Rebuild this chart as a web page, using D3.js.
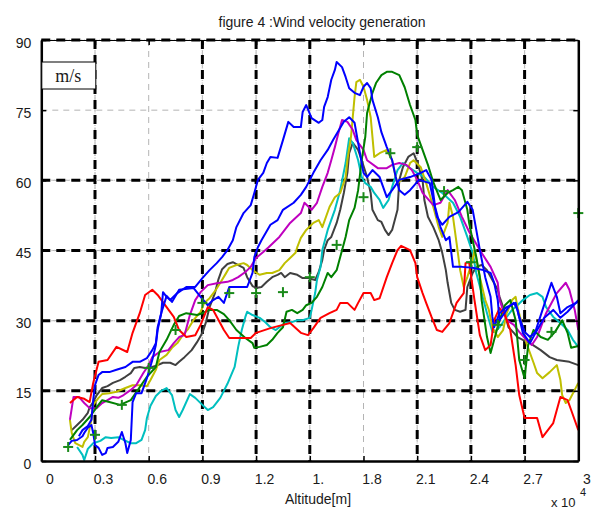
<!DOCTYPE html>
<html>
<head>
<meta charset="utf-8">
<script src="https://cdn.jsdelivr.net/npm/d3@7"></script>
<style>
  html, body { margin: 0; padding: 0; background: #fff; }
  svg { display: block; }
  text { font-family: "Liberation Sans", Arial, Helvetica, sans-serif; fill: #1a1a1a; }
</style>
</head>
<body>
<svg id="chart" width="598" height="509"></svg>
<script>
// ---------- data (altitude in units of 10^4 m, velocity in m/s) ----------
const xTicks = [0, 0.3, 0.6, 0.9, 1.2, 1.5, 1.8, 2.1, 2.4, 2.7, 3];
const xTickLabels = ["0", "0.3", "0.6", "0.9", "1.2", "1.", "1.8", "2.1", "2.4", "2.7", "3"];
const yTicks = [0, 15, 30, 45, 60, 75, 90];
const yTickLabels = ["0", "15", "30", "45", "60", "75", "90"];
const heavyGridX = [0.3, 0.9, 1.2, 1.5, 2.1, 2.4, 2.7];
const heavyGridY = [15, 30, 45, 60];

const titleText = "figure 4 :Wind velocity generation";
const xLabelText = "Altitude[m]";
const unitText = "m/s";

const red = [[0.16,12.4],[0.20,13.7],[0.24,13.3],[0.27,12.6],[0.29,16.7],[0.32,21.2],[0.37,21.6],[0.42,24.4],[0.48,23.3],[0.51,27.4],[0.55,31.6],[0.58,35.5],[0.62,36.6],[0.65,35.5],[0.70,32.9],[0.74,30.8],[0.77,28.0],[0.81,26.5],[0.86,26.9],[0.89,29.1],[0.93,32.9],[0.96,32.3],[1.02,28.0],[1.05,26.3],[1.11,26.3],[1.17,26.3],[1.20,27.4],[1.28,28.4],[1.35,29.1],[1.39,29.5],[1.45,27.4],[1.49,26.9],[1.52,28.4],[1.56,30.6],[1.61,31.6],[1.65,32.3],[1.67,33.8],[1.71,33.8],[1.75,32.3],[1.77,33.8],[1.80,35.9],[1.84,35.9],[1.86,34.4],[1.89,34.8],[1.93,39.3],[1.96,42.3],[1.99,45.1],[2.01,46.0],[2.06,45.1],[2.09,42.3],[2.10,39.3],[2.13,35.9],[2.15,33.8],[2.18,30.8],[2.21,28.0],[2.24,27.6],[2.28,29.5],[2.32,33.8],[2.36,35.9],[2.37,42.3],[2.39,42.5],[2.42,34.4],[2.45,26.9],[2.48,23.7],[2.51,24.8],[2.53,30.1],[2.56,32.7],[2.59,31.2],[2.62,28.0],[2.65,20.5],[2.67,14.1],[2.70,9.2],[2.77,9.2],[2.80,5.1],[2.86,8.1],[2.90,13.7],[2.94,13.0],[2.96,10.9],[3.00,6.6]];

const magenta = [[0.16,8.8],[0.18,13.7],[0.21,13.7],[0.24,12.4],[0.27,11.3],[0.31,11.3],[0.34,12.4],[0.37,13.0],[0.40,13.7],[0.43,13.5],[0.46,14.1],[0.50,15.2],[0.53,16.2],[0.57,18.8],[0.60,20.5],[0.62,22.2],[0.66,23.3],[0.71,23.7],[0.74,25.2],[0.77,26.5],[0.80,26.9],[0.83,31.2],[0.86,34.4],[0.89,36.1],[0.93,37.6],[0.98,38.0],[1.04,38.3],[1.07,38.7],[1.10,39.3],[1.14,40.4],[1.17,41.5],[1.20,43.4],[1.24,44.7],[1.27,45.7],[1.33,47.9],[1.39,50.9],[1.45,53.0],[1.47,55.2],[1.51,53.7],[1.54,55.2],[1.57,58.6],[1.60,61.6],[1.62,64.3],[1.64,67.1],[1.66,70.1],[1.68,72.9],[1.71,72.5],[1.74,70.8],[1.76,68.6],[1.80,66.5],[1.82,64.3],[1.88,62.6],[1.93,62.6],[1.96,63.3],[2.00,63.7],[2.04,63.3],[2.07,62.2],[2.10,60.1],[2.13,57.3],[2.19,54.7],[2.23,55.2],[2.27,57.9],[2.31,55.8],[2.35,52.2],[2.39,49.0],[2.45,45.1],[2.51,41.5],[2.55,38.1],[2.56,34.4],[2.60,30.1],[2.64,29.1],[2.67,27.6],[2.71,25.9],[2.74,24.8],[2.77,26.5],[2.82,31.6],[2.88,35.9],[2.93,38.1],[2.95,36.6],[2.98,32.3],[3.00,28.0]];

const green = [[0.16,4.5],[0.20,6.6],[0.23,7.7],[0.27,9.4],[0.31,11.5],[0.34,13.0],[0.38,12.6],[0.44,12.0],[0.50,13.0],[0.54,15.2],[0.59,18.0],[0.64,20.1],[0.66,23.3],[0.70,25.9],[0.74,29.1],[0.77,31.0],[0.81,31.6],[0.87,31.2],[0.90,31.6],[0.94,32.3],[0.98,32.3],[1.02,31.4],[1.05,30.1],[1.09,28.0],[1.14,26.3],[1.18,25.2],[1.19,24.2],[1.22,24.4],[1.26,24.8],[1.29,25.9],[1.32,27.4],[1.35,28.6],[1.37,31.9],[1.40,32.3],[1.43,31.6],[1.46,32.3],[1.48,33.3],[1.51,33.8],[1.54,35.1],[1.57,37.2],[1.60,40.2],[1.62,39.3],[1.65,40.8],[1.67,43.6],[1.70,47.9],[1.72,51.5],[1.75,54.1],[1.77,57.9],[1.79,64.3],[1.81,69.3],[1.82,74.4],[1.85,78.7],[1.87,80.8],[1.90,82.5],[1.93,83.2],[1.96,83.2],[2.00,82.5],[2.03,79.9],[2.06,76.1],[2.09,72.9],[2.10,69.7],[2.13,66.5],[2.16,63.3],[2.19,59.6],[2.23,55.8],[2.27,57.3],[2.30,57.9],[2.33,58.6],[2.35,57.9],[2.38,53.7],[2.39,50.9],[2.41,47.2],[2.43,43.6],[2.45,39.3],[2.46,34.4],[2.49,26.5],[2.51,23.1],[2.53,25.9],[2.56,30.1],[2.59,33.3],[2.62,34.4],[2.65,30.1],[2.67,21.6],[2.70,17.7],[2.72,24.8],[2.75,28.0],[2.79,26.5],[2.83,25.9],[2.87,27.6],[2.91,30.1],[2.94,27.4],[2.96,24.2],[3.00,24.6]];

const blueA = [[0.15,3.4],[0.17,4.3],[0.20,4.5],[0.23,5.3],[0.24,6.0],[0.26,7.1],[0.28,7.7],[0.29,6.0],[0.30,3.4],[0.32,2.8],[0.34,1.3],[0.36,1.7],[0.37,2.8],[0.40,3.0],[0.43,4.1],[0.45,6.2],[0.47,3.8],[0.48,1.7],[0.50,4.5],[0.51,12.6],[0.53,14.5],[0.56,14.5],[0.59,17.7],[0.62,21.6],[0.64,24.8],[0.65,28.0],[0.67,31.6],[0.68,36.1],[0.70,35.1],[0.72,34.4],[0.76,35.9],[0.81,37.2],[0.86,37.2],[0.90,39.1],[0.94,40.8],[0.98,42.3],[1.01,43.6],[1.04,45.1],[1.07,47.2],[1.09,50.0],[1.13,53.0],[1.17,54.7],[1.19,57.3],[1.21,60.1],[1.24,61.6],[1.26,63.7],[1.28,65.0],[1.32,64.8],[1.35,68.6],[1.38,72.5],[1.41,71.4],[1.45,71.4],[1.46,74.6],[1.48,76.1],[1.51,73.3],[1.55,72.3],[1.57,72.9],[1.58,75.7],[1.60,77.8],[1.62,81.5],[1.64,83.6],[1.65,85.3],[1.68,84.2],[1.70,82.1],[1.72,79.7],[1.75,78.7],[1.78,78.2],[1.80,80.0],[1.82,80.8],[1.84,79.7],[1.85,77.2],[1.88,73.5],[1.90,70.3],[1.93,67.1],[1.96,64.3],[1.98,60.7],[2.00,57.9],[2.03,56.9],[2.06,57.9],[2.11,60.1],[2.17,59.4],[2.21,52.2],[2.24,50.5],[2.28,52.2],[2.33,53.2],[2.38,55.4],[2.41,53.7],[2.43,49.4],[2.45,45.1],[2.48,39.3],[2.51,35.1],[2.52,30.8],[2.53,28.6],[2.56,31.6],[2.60,32.9],[2.65,33.8],[2.67,30.8],[2.70,27.6],[2.73,26.5],[2.76,27.6],[2.80,32.3],[2.85,38.1],[2.88,35.1],[2.90,31.6],[2.94,32.9],[3.00,34.0]];

const blueB = [[0.21,5.3],[0.23,6.6],[0.26,7.5],[0.28,8.8],[0.29,13.0],[0.30,16.2],[0.32,18.4],[0.34,19.0],[0.38,19.0],[0.42,19.5],[0.47,20.1],[0.51,21.2],[0.55,21.2],[0.59,22.0],[0.62,23.7],[0.64,25.2],[0.65,28.6],[0.67,31.6],[0.70,35.3],[0.73,34.0],[0.77,36.6],[0.85,37.0],[0.89,35.1],[0.93,33.3],[0.96,34.4],[0.99,35.1],[1.02,33.8],[1.05,37.2],[1.11,37.2],[1.15,37.2],[1.18,40.2],[1.19,43.6],[1.21,45.7],[1.23,47.2],[1.28,50.5],[1.32,51.5],[1.35,53.7],[1.41,55.2],[1.45,56.9],[1.48,58.6],[1.52,61.6],[1.56,64.3],[1.60,66.5],[1.63,68.6],[1.69,72.5],[1.72,73.5],[1.75,72.3],[1.77,68.0],[1.79,63.7],[1.80,61.6],[1.82,60.7],[1.85,62.2],[1.89,60.7],[1.93,56.4],[1.96,57.9],[2.00,60.1],[2.06,60.7],[2.12,61.6],[2.15,62.2],[2.18,60.1],[2.20,54.3],[2.23,50.0],[2.26,47.2],[2.28,47.9],[2.30,41.5],[2.35,41.5],[2.41,41.3],[2.47,40.8],[2.51,40.2],[2.53,38.1],[2.55,34.4],[2.56,30.1],[2.61,32.9],[2.64,33.8],[2.66,32.3],[2.69,27.4],[2.73,25.2],[2.77,28.0],[2.81,30.6],[2.86,32.3],[2.90,30.6],[2.94,31.9],[3.00,34.4]];

const yellow = [[0.16,8.8],[0.17,6.0],[0.19,3.8],[0.23,3.0],[0.24,4.1],[0.26,5.1],[0.28,8.8],[0.29,12.0],[0.32,13.5],[0.34,14.3],[0.38,14.5],[0.42,14.8],[0.47,15.6],[0.51,16.2],[0.55,16.2],[0.59,16.0],[0.61,17.3],[0.64,19.5],[0.66,21.6],[0.70,22.7],[0.73,24.2],[0.76,25.2],[0.79,26.9],[0.82,28.2],[0.85,30.1],[0.89,31.9],[0.91,33.8],[0.94,34.8],[0.97,36.3],[1.00,38.1],[1.03,40.0],[1.05,41.3],[1.09,41.9],[1.13,42.3],[1.15,41.9],[1.18,40.8],[1.22,39.8],[1.26,40.2],[1.29,40.2],[1.33,40.8],[1.36,42.3],[1.39,43.4],[1.42,44.5],[1.43,45.7],[1.45,47.7],[1.48,49.4],[1.52,50.9],[1.55,51.5],[1.57,50.0],[1.61,54.3],[1.64,56.4],[1.67,57.3],[1.70,60.7],[1.71,64.3],[1.73,69.3],[1.74,73.5],[1.75,77.8],[1.76,81.0],[1.78,81.5],[1.80,80.0],[1.82,77.2],[1.84,73.5],[1.85,69.3],[1.86,65.0],[1.89,65.8],[1.93,66.5],[1.96,64.3],[1.98,60.7],[1.99,59.4],[2.03,60.7],[2.06,63.7],[2.08,64.3],[2.12,62.8],[2.15,59.4],[2.19,54.3],[2.22,50.0],[2.24,47.9],[2.27,50.9],[2.28,55.2],[2.30,52.2],[2.32,46.6],[2.34,40.8],[2.36,37.2],[2.38,39.3],[2.41,43.0],[2.42,45.1],[2.45,39.3],[2.48,34.4],[2.50,32.3],[2.52,28.6],[2.55,26.5],[2.58,28.0],[2.60,31.6],[2.63,34.4],[2.65,35.1],[2.66,32.9],[2.69,28.6],[2.71,25.2],[2.75,21.0],[2.77,18.8],[2.80,17.7],[2.84,19.0],[2.88,20.5],[2.90,17.3],[2.91,14.1],[2.93,12.4],[2.95,13.0],[2.98,15.2],[3.00,16.7]];

const cyan = [[0.20,3.0],[0.23,1.3],[0.24,0.2],[0.26,2.6],[0.29,3.8],[0.33,4.3],[0.36,5.1],[0.39,4.9],[0.43,5.1],[0.46,4.5],[0.50,3.8],[0.53,3.8],[0.56,4.5],[0.58,6.6],[0.59,9.2],[0.61,11.8],[0.64,13.9],[0.67,15.0],[0.70,15.6],[0.73,14.1],[0.75,10.9],[0.77,9.4],[0.79,10.9],[0.83,14.3],[0.86,13.5],[0.90,12.0],[0.93,10.9],[0.96,11.5],[1.00,13.5],[1.04,16.5],[1.08,20.1],[1.10,24.4],[1.12,28.0],[1.14,30.8],[1.15,31.9],[1.18,31.2],[1.22,30.6],[1.25,29.7],[1.28,28.6],[1.31,28.0],[1.33,28.6],[1.36,29.5],[1.40,29.7],[1.43,30.1],[1.46,30.1],[1.50,30.6],[1.51,32.3],[1.53,35.9],[1.54,38.7],[1.56,41.5],[1.57,45.1],[1.60,49.4],[1.64,53.7],[1.67,57.9],[1.70,63.7],[1.72,69.0],[1.74,68.0],[1.77,64.3],[1.79,60.7],[1.81,59.4],[1.84,58.6],[1.86,57.3],[1.89,55.8],[1.91,54.1],[1.94,55.8],[1.96,58.6],[1.99,62.2],[2.02,63.7],[2.06,62.6],[2.10,61.6],[2.14,60.7],[2.19,58.6],[2.24,57.3],[2.30,55.2],[2.34,52.2],[2.38,47.9],[2.41,44.5],[2.43,40.2],[2.46,35.9],[2.49,31.6],[2.52,27.6],[2.53,27.6],[2.56,28.6],[2.60,30.8],[2.63,32.3],[2.66,33.3],[2.69,34.4],[2.73,35.5],[2.77,35.9],[2.80,35.1],[2.82,32.9],[2.86,30.8],[2.90,29.5],[2.94,28.0],[2.97,25.9],[3.00,24.4]];

const gray = [[0.17,6.6],[0.20,7.7],[0.23,8.8],[0.26,10.3],[0.27,11.5],[0.29,12.6],[0.31,14.1],[0.34,15.6],[0.37,16.0],[0.40,16.7],[0.44,17.3],[0.47,18.0],[0.50,18.8],[0.52,19.9],[0.55,20.1],[0.58,19.9],[0.62,20.1],[0.65,20.5],[0.68,21.0],[0.72,21.0],[0.75,20.5],[0.77,21.2],[0.80,22.2],[0.84,23.7],[0.87,25.4],[0.90,27.4],[0.92,29.7],[0.94,32.9],[0.97,35.9],[0.99,38.9],[1.01,41.0],[1.04,42.1],[1.07,42.5],[1.09,42.1],[1.13,41.3],[1.15,39.3],[1.18,37.4],[1.20,37.0],[1.23,37.2],[1.26,38.3],[1.29,39.3],[1.32,39.8],[1.34,40.2],[1.36,39.3],[1.39,40.2],[1.43,39.8],[1.46,39.1],[1.49,39.1],[1.53,38.7],[1.55,40.4],[1.57,43.0],[1.58,45.1],[1.60,47.2],[1.62,47.9],[1.65,50.9],[1.67,53.7],[1.69,57.3],[1.71,61.6],[1.72,65.8],[1.74,68.0],[1.77,66.5],[1.79,64.3],[1.82,60.7],[1.84,57.3],[1.85,53.7],[1.88,51.5],[1.90,51.1],[1.92,49.4],[1.94,48.3],[1.96,49.4],[1.99,53.7],[2.00,60.1],[2.02,62.8],[2.05,65.0],[2.08,65.8],[2.10,63.9],[2.13,60.1],[2.14,55.8],[2.16,52.2],[2.19,50.0],[2.22,47.2],[2.24,44.5],[2.26,40.8],[2.27,38.1],[2.29,33.8],[2.31,32.3],[2.34,31.9],[2.37,32.3],[2.38,37.2],[2.41,40.2],[2.43,41.5],[2.46,41.9],[2.49,40.8],[2.52,38.7],[2.55,36.6],[2.56,35.1],[2.58,32.9],[2.61,28.6],[2.64,27.4],[2.66,26.5],[2.69,25.9],[2.73,25.2],[2.79,23.7],[2.84,22.2],[2.88,21.6],[2.95,21.2],[3.00,20.5]];

const markerX = [0.15, 0.30, 0.45, 0.60, 0.75, 0.90, 1.05, 1.20, 1.35, 1.50, 1.65, 1.80, 1.95, 2.10, 2.25, 2.40, 2.55, 2.70, 2.85, 3.00];
const markerY = [3.0, 5.6, 12.0, 19.9, 28.0, 33.8, 35.9, 35.9, 36.1, 39.3, 46.2, 56.4, 65.8, 67.1, 57.7, 42.5, 29.1, 21.6, 27.6, 53.0];

const series = [
  { data: gray,    color: "#404040" },
  { data: cyan,    color: "#00bfbf" },
  { data: yellow,  color: "#bfbf00" },
  { data: magenta, color: "#bf00bf" },
  { data: green,   color: "#008000" },
  { data: red,     color: "#ff0000" },
  { data: blueB,   color: "#0000ff" },
  { data: blueA,   color: "#0000ff" }
];

// ---------- layout ----------
const L = 41.3, R = 578.3, T = 40, B = 461;
const svg = d3.select("#chart");
const x = d3.scaleLinear().domain([0, 3]).range([L, R]);
const y = d3.scaleLinear().domain([0, 90]).range([B, T]);

// light grid at every tick
const grid = svg.append("g");
xTicks.slice(1, -1).forEach(v => {
  grid.append("line").attr("x1", x(v)).attr("x2", x(v)).attr("y1", T).attr("y2", B)
    .attr("stroke", "#b4b4b4").attr("stroke-width", 1).attr("stroke-dasharray", "6,5");
});
yTicks.slice(1, -1).forEach(v => {
  grid.append("line").attr("x1", L).attr("x2", R).attr("y1", y(v)).attr("y2", y(v))
    .attr("stroke", "#b4b4b4").attr("stroke-width", 1).attr("stroke-dasharray", "6,5");
});
// heavy dash-dot grid
function heavy(g, x1, y1, x2, y2) {
  g.append("line").attr("x1", x1).attr("x2", x2).attr("y1", y1).attr("y2", y2)
    .attr("stroke", "#c8c8c8").attr("stroke-width", 1.5).attr("stroke-dasharray", "1,1.5");
  g.append("line").attr("x1", x1).attr("x2", x2).attr("y1", y1).attr("y2", y2)
    .attr("stroke", "#000").attr("stroke-width", 3).attr("stroke-dasharray", "9,6");
}
heavyGridX.forEach(v => heavy(grid, x(v), T, x(v), B));
heavyGridY.forEach(v => heavy(grid, L, y(v), R, y(v)));
heavy(grid, L, T, R, T);

// series lines
const line = d3.line().x(d => x(d[0])).y(d => y(d[1]));
const lines = svg.append("g").attr("fill", "none").attr("stroke-linejoin", "round");
series.forEach(s => {
  lines.append("path").attr("d", line(s.data)).attr("stroke", s.color).attr("stroke-width", 2);
});

// green + markers
const mk = svg.append("g").attr("stroke", "#1a8a1a").attr("stroke-width", 2);
markerX.forEach((mx, i) => {
  const cx = x(mx), cy = y(markerY[i]);
  mk.append("line").attr("x1", cx - 5).attr("x2", cx + 5).attr("y1", cy).attr("y2", cy);
  mk.append("line").attr("x1", cx).attr("x2", cx).attr("y1", cy - 5).attr("y2", cy + 5);
});

// axes
const axB = svg.append("g").attr("transform", `translate(0,${B})`)
  .call(d3.axisBottom(x).tickValues(xTicks).tickFormat((d, i) => xTickLabels[i]).tickSizeInner(-5).tickSizeOuter(0).tickPadding(0));
axB.select(".domain").attr("stroke", "#000").attr("stroke-width", 2.5);
axB.selectAll(".tick line").attr("stroke", "#000").attr("stroke-width", 1.5);
axB.selectAll(".tick text").attr("font-size", 14).attr("font-family", "Liberation Sans, Arial, sans-serif")
  .attr("fill", "#1a1a1a").attr("dx", 8).attr("dy", 0).attr("y", 23);

const axL = svg.append("g").attr("transform", `translate(${L},0)`)
  .call(d3.axisLeft(y).tickValues(yTicks).tickFormat((d, i) => yTickLabels[i]).tickSizeInner(-5).tickSizeOuter(0).tickPadding(0));
axL.select(".domain").attr("stroke", "#000").attr("stroke-width", 2.5);
axL.selectAll(".tick line").attr("stroke", "#000").attr("stroke-width", 1.5);
axL.selectAll(".tick text").attr("font-size", 14).attr("font-family", "Liberation Sans, Arial, sans-serif")
  .attr("fill", "#1a1a1a").attr("x", -10).attr("dy", "0.5em");

const axT = svg.append("g").attr("transform", `translate(0,${T})`)
  .call(d3.axisTop(x).tickValues(xTicks).tickFormat("").tickSizeInner(-5).tickSizeOuter(0));
axT.select(".domain").attr("stroke", "#000").attr("stroke-width", 1);
axT.selectAll(".tick line").attr("stroke", "#000").attr("stroke-width", 1.5);

const axR = svg.append("g").attr("transform", `translate(${R},0)`)
  .call(d3.axisRight(y).tickValues(yTicks).tickFormat("").tickSizeInner(-5).tickSizeOuter(0));
axR.select(".domain").attr("stroke", "#000").attr("stroke-width", 2.5);
axR.selectAll(".tick line").attr("stroke", "#000").attr("stroke-width", 1.5);

// unit box
svg.append("rect").attr("x", L + 0.5).attr("y", 62).attr("width", 54).attr("height", 27)
  .attr("fill", "#fff").attr("stroke", "#000").attr("stroke-width", 1);
svg.append("text").attr("x", L + 27).attr("y", 82).attr("text-anchor", "middle")
  .style("font-family", "'Liberation Serif', 'Times New Roman', serif").attr("font-size", 18).text(unitText);

// title and labels
svg.append("text").attr("x", 322).attr("y", 27).attr("text-anchor", "middle").attr("font-size", 14).text(titleText);
svg.append("text").attr("x", 318).attr("y", 504).attr("text-anchor", "middle").attr("font-size", 14).text(xLabelText);
svg.append("text").attr("x", 551).attr("y", 507).attr("font-size", 13).text("x 10");
svg.append("text").attr("x", 580).attr("y", 496).attr("font-size", 11).text("4");
</script>
</body>
</html>
